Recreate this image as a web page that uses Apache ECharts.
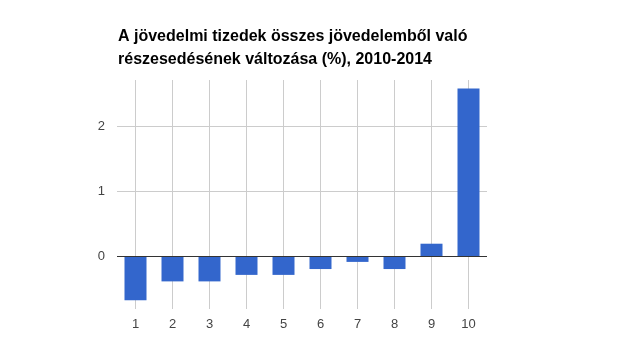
<!DOCTYPE html>
<html>
<head>
<meta charset="utf-8">
<script src="https://cdn.jsdelivr.net/npm/echarts@6/dist/echarts.min.js"></script>
<style>html,body{margin:0;padding:0;background:#fff}#c{width:624px;height:356px}</style>
</head>
<body>
<div id="c"></div>
<script>
const titleText = 'A jövedelmi tizedek összes jövedelemből való\nrészesedésének változása (%), 2010-2014';
const categories = ['1','2','3','4','5','6','7','8','9','10'];
const values = [-0.68, -0.39, -0.39, -0.29, -0.29, -0.2, -0.09, -0.2, 0.19, 2.58];
const yTicks = [0, 1, 2];

const chart = echarts.init(document.getElementById('c'), null, {renderer: 'canvas'});
chart.setOption({
  animation: false,
  backgroundColor: '#fff',
  title: {
    text: titleText,
    left: 113,
    top: 20,
    textStyle: {fontFamily: 'Liberation Sans, Arial', fontWeight: 'bold', fontSize: 16, color: '#000', lineHeight: 23}
  },
  grid: {left: 117, right: 137, top: 80, bottom: 47, containLabel: false},
  xAxis: {
    type: 'category',
    data: categories,
    boundaryGap: true,
    axisLine: {show: false},
    axisTick: {show: false},
    splitLine: {show: true, alignWithLabel: true, lineStyle: {color: '#cccccc', width: 1}},
    axisLabel: {margin: 9, fontFamily: 'Liberation Sans, Arial', fontSize: 13, color: '#444'}
  },
  yAxis: {
    type: 'value',
    min: -0.815,
    max: 2.71,
    axisLine: {show: false},
    axisTick: {show: false, customValues: yTicks},
    splitLine: {show: true, lineStyle: {color: '#cccccc', width: 1}},
    axisLabel: {customValues: yTicks, margin: 12, fontFamily: 'Liberation Sans, Arial', fontSize: 13, color: '#444'}
  },
  series: [{
    type: 'bar',
    data: values,
    barWidth: 22,
    itemStyle: {color: '#3366cc'},
    markLine: {
      silent: true,
      symbol: ['none', 'none'],
      label: {show: false},
      lineStyle: {color: '#333333', width: 1, type: 'solid'},
      data: [{yAxis: 0}]
    }
  }]
});
</script>
</body>
</html>
